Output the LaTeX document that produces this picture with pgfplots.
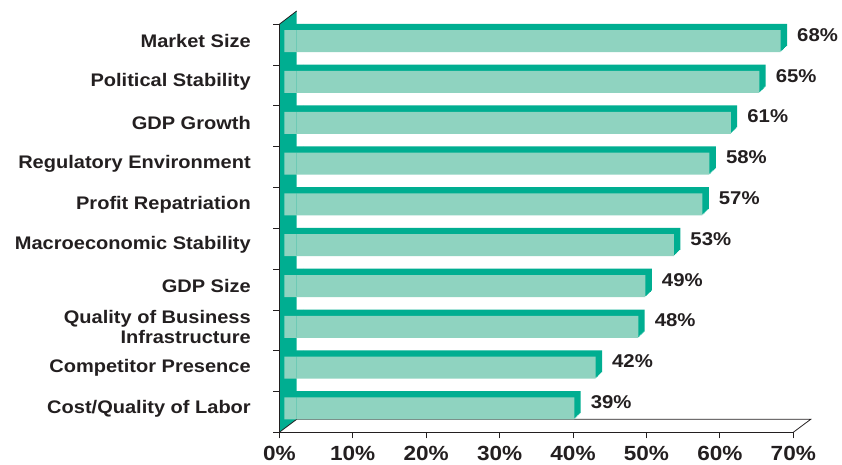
\documentclass[border=0pt]{standalone}
\usepackage{pgfplots}
\usepackage{pgfplotstable}
\pgfplotsset{compat=1.18}
\usepackage{fontspec}
\setmainfont{Liberation Sans}[FakeStretch=1.1]
\definecolor{lightbar}{HTML}{8FD3C0}
\definecolor{darkbar}{HTML}{00AE91}
\definecolor{txt}{HTML}{231F20}
\pgfplotstableread{
c v
0 39
1 42
2 48
3 49
4 53
5 57
6 58
7 61
8 65
9 68
}\data
\begin{document}
\begin{tikzpicture}
% frame axis: wall, floor, ticks and labels
\begin{axis}[
  scale only axis, width=514pt, height=408pt,
  xmin=0, xmax=70, ymin=-0.5, ymax=9.5,
  clip=false, axis on top,
  axis x line*=bottom, axis y line*=left,
  axis line style={txt, line width=0.9pt, -},
  tick align=outside, major tick length=6pt,
  tick style={txt, line width=0.8pt},
  xtick={0,10,...,70},
  xticklabels={0\%,10\%,20\%,30\%,40\%,50\%,60\%,70\%},
  xticklabel style={font=\fontsize{20.5}{22}\selectfont\bfseries, text=txt, yshift=-4pt},
  ytick={-0.5,0.5,...,9.5}, yticklabels={},
  extra y ticks={0,1,...,9},
  extra y tick labels={Cost/Quality of Labor, Competitor Presence, {Quality of Business\\Infrastructure}, GDP Size, Macroeconomic Stability, Profit Repatriation, Regulatory Environment, GDP Growth, Political Stability, Market Size},
  extra y tick style={major tick length=0pt, yticklabel style={align=right, font=\fontsize{18.2}{20}\selectfont\bfseries, text=txt, xshift=-25pt, yshift=3.5pt}},
]
\addplot[fill=darkbar, draw=none] coordinates {(0,-0.5) (2.37,-0.181) (2.37,9.826) (0,9.5)};
\addplot[txt, line width=0.8pt] coordinates {(0,9.5) (2.37,9.826)};
\addplot[txt, line width=0.8pt] coordinates {(0,-0.5) (2.37,-0.181) (72.37,-0.181) (70,-0.5)};
\end{axis}
% bar axis (3D bars drawn from the back wall)
\begin{axis}[
  at={(17.4pt,0pt)}, anchor=south west,
  scale only axis, width=498.2pt, height=408pt,
  xmin=0, xmax=70, ymin=-0.5, ymax=9.5,
  clip=false, hide axis,
  /pgf/number format/assume math mode=true,
]
\pgfplotsinvokeforeach{1,...,6}{
  \addplot[xbar, bar width=22pt, bar shift={3.5pt+#1*1.05pt}, xshift={#1*1.067pt}, fill=darkbar, draw=none]
    coordinates {(-1.742,0) (-1.742,1) (-1.742,2) (-1.742,3) (-1.742,4) (-1.742,5) (-1.742,6) (-1.742,7) (-1.742,8) (-1.742,9)};
  \addplot[xbar, bar width=22pt, bar shift={3.5pt+#1*1.05pt}, xshift={#1*1.067pt}, fill=darkbar, draw=none]
    table[x=v, y=c] {\data};
}
\addplot[xbar, bar width=22pt, bar shift=3.5pt, fill=lightbar, draw=none]
  coordinates {(-1.742,0) (-1.742,1) (-1.742,2) (-1.742,3) (-1.742,4) (-1.742,5) (-1.742,6) (-1.742,7) (-1.742,8) (-1.742,9)};
\addplot[xbar, bar width=22pt, bar shift=3.5pt, fill=lightbar, draw=none]
  table[x=v, y=c] {\data};
\addplot[draw=none, mark=none, point meta=x,
  nodes near coords={\pgfmathprintnumber{\pgfplotspointmeta}\%},
  every node near coord/.append style={anchor=west, xshift=13pt, yshift=9.8pt, font=\fontsize{18.5}{20}\selectfont\bfseries, text=txt}]
  table[x=v, y=c] {\data};
\end{axis}
\pgfresetboundingbox
\path[use as bounding box] (-279.3pt,-31.7pt) rectangle (562.7pt,432.3pt);
\end{tikzpicture}
\end{document}
